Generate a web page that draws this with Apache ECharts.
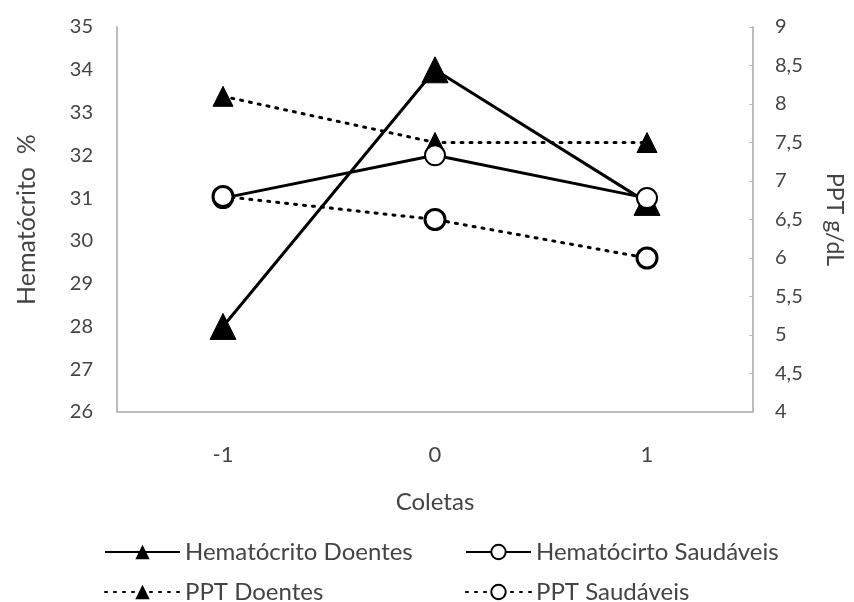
<!DOCTYPE html>
<html><head><meta charset="utf-8">
<script src="https://cdn.jsdelivr.net/npm/echarts@6/dist/echarts.min.js"></script>
<style>html,body{margin:0;padding:0;background:#fff}#c{width:854px;height:602px}</style>
</head><body><div id="c"></div>
<script>
const categories = ['-1', '0', '1'];
const hematocritoDoentes = [28, 34, 30.9];
const hematocritoSaudaveis = [31, 32, 31];
const pptDoentes = [8.1, 7.5, 7.5];
const pptSaudaveis = [6.8, 6.5, 6.0];
const leftTicks = [26, 35, 1];
const rightTicks = [4, 9, 0.5];

const font = 'Lato';
const txt = '#444';
const axisCol = '#bdbdbd';
const legendText = { fontFamily: font, fontSize: 24, color: txt, lineHeight: 24 };
function leg(name, left, top, w) {
  return { orient: 'horizontal', left: left, top: top, itemWidth: w, itemHeight: 18,
    padding: 0, itemGap: 0, textStyle: legendText, data: [name] };
}
const chart = echarts.init(document.getElementById('c'));
chart.setOption({
  animation: false,
  textStyle: { fontFamily: font },
  grid: { left: 117, right: 97, top: 27, bottom: 190, containLabel: false },
  legend: [
    leg('Hematócrito Doentes', 104, 540, 75),
    leg('PPT Doentes', 104, 580, 75),
    leg('Hematócirto Saudáveis', 465, 540, 65),
    leg('PPT Saudáveis', 465, 580, 65)
  ],
  xAxis: {
    type: 'category', data: categories, boundaryGap: true,
    name: 'Coletas', nameLocation: 'middle', nameGap: 78,
    nameTextStyle: { fontSize: 24, color: txt, fontFamily: font },
    axisLine: { lineStyle: { color: axisCol, width: 2 } },
    axisTick: { show: false },
    axisLabel: { fontSize: 22, color: txt, margin: 32 }
  },
  yAxis: [
    { type: 'value', min: leftTicks[0], max: leftTicks[1], interval: leftTicks[2],
      name: 'Hematócrito  %', nameLocation: 'middle', nameGap: 78, nameRotate: 90,
      nameTextStyle: { fontSize: 25, color: txt, fontFamily: font },
      axisLine: { show: true, lineStyle: { color: axisCol, width: 2 } },
      axisTick: { show: false }, splitLine: { show: false },
      axisLabel: { fontSize: 20, color: txt, margin: 24 } },
    { type: 'value', position: 'right', min: rightTicks[0], max: rightTicks[1], interval: rightTicks[2],
      name: 'PPT g/dL', nameLocation: 'middle', nameGap: 70, nameRotate: -90,
      nameTextStyle: { fontSize: 23, color: txt, fontFamily: font },
      axisLine: { show: true, lineStyle: { color: axisCol, width: 2 } },
      axisTick: { show: true, inside: true, length: 4, lineStyle: { color: axisCol } },
      splitLine: { show: false },
      axisLabel: { fontSize: 20, color: txt, margin: 22,
        formatter: v => String(v).replace('.', ',') } }
  ],
  series: [
    { name: 'Hematócrito Doentes', type: 'line', yAxisIndex: 0, data: hematocritoDoentes,
      symbol: 'triangle', symbolSize: 26, z: 3,
      itemStyle: { color: '#000', borderColor: '#000' },
      lineStyle: { color: '#000', width: 3 } },
    { name: 'Hematócirto Saudáveis', type: 'line', yAxisIndex: 0, data: hematocritoSaudaveis,
      symbol: 'circle', symbolSize: 20, z: 4,
      itemStyle: { color: '#fff', borderColor: '#000', borderWidth: 2 },
      lineStyle: { color: '#000', width: 3 } },
    { name: 'PPT Doentes', type: 'line', yAxisIndex: 1, data: pptDoentes,
      symbol: 'triangle', symbolSize: 20, z: 3,
      itemStyle: { color: '#000', borderColor: '#000' },
      lineStyle: { color: '#000', width: 3, type: [2, 7], cap: 'round' } },
    { name: 'PPT Saudáveis', type: 'line', yAxisIndex: 1, data: pptSaudaveis,
      symbol: 'circle', symbolSize: 20, z: 4,
      itemStyle: { color: '#fff', borderColor: '#000', borderWidth: 3 },
      lineStyle: { color: '#000', width: 3, type: [2, 7], cap: 'round' } }
  ]
});
</script></body></html>
